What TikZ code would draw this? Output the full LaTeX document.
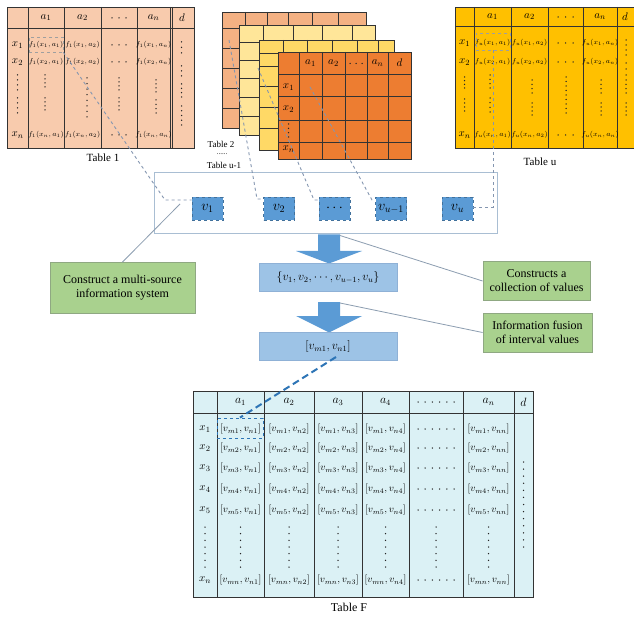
\documentclass[tikz,border=0pt]{standalone}
\usepackage{fontspec}
\setmainfont{Liberation Serif}
\usetikzlibrary{calc}
\definecolor{tabone}{HTML}{F8CBAD}
\definecolor{tabu}{HTML}{FFC000}
\definecolor{stkA}{HTML}{F4B183}
\definecolor{stkB}{HTML}{FFE699}
\definecolor{stkC}{HTML}{FFD966}
\definecolor{stkD}{HTML}{ED7D31}
\definecolor{vfill}{HTML}{5B9BD5}
\definecolor{vline}{HTML}{41719C}
\definecolor{setfill}{HTML}{9DC3E6}
\definecolor{setline}{HTML}{8FB1D6}
\definecolor{grfill}{HTML}{A9D18E}
\definecolor{grline}{HTML}{8FA882}
\definecolor{tabF}{HTML}{DBF1F5}
\definecolor{framec}{HTML}{A9BED3}
\definecolor{connc}{HTML}{8C9DB0}
\definecolor{fusec}{HTML}{2E75B6}
\definecolor{dashc}{HTML}{8496B0}
\newcommand\vdotsat[4]{\foreach \k in {0,...,#4}{\fill[black!85] ({#1},{#2+(#3-#2)*\k/#4}) circle (0.75pt);}}
\newcommand\hdotsat[4]{\foreach \k in {0,...,#4}{\fill[black!85] ({#2+(#3-#2)*\k/#4},{#1}) circle (0.75pt);}}
\tikzset{
  tl/.style={draw=black!80, line width=0.7pt},
  hd/.style={font=\fontsize{11}{12}\selectfont, inner sep=0pt},
  cellsm/.style={font=\fontsize{7.5}{8}\selectfont, inner sep=0pt},
  cellF/.style={font=\fontsize{10}{11}\selectfont, inner sep=0pt},
  tcap/.style={font=\fontsize{11}{12}\selectfont, inner sep=0pt},
  scap/.style={font=\fontsize{9}{10}\selectfont, inner sep=0pt},
  gdash/.style={draw=gray!75, dashed, line width=0.7pt, inner sep=0pt},
  gline/.style={draw=dashc, dashed, line width=0.9pt},
  vbox/.style={fill=vfill, draw=vline, dashed, line width=0.8pt, minimum width=31pt, minimum height=23pt, inner sep=0pt, font=\fontsize{14}{14}\selectfont},
  setbox/.style={fill=setfill, draw=setline, line width=0.8pt, minimum width=138pt, minimum height=28pt, inner sep=0pt, font=\fontsize{12}{12}\selectfont},
  gbox/.style={fill=grfill, draw=grline, line width=0.9pt, inner sep=0pt, align=center, font=\fontsize{12}{14}\selectfont},
  conn/.style={draw=connc, line width=0.8pt},
}
\begin{document}
\begin{tikzpicture}[x=1pt,y=-1pt]
\useasboundingbox[fill=white] (0,0) rectangle (634,620);

% ---------------- Table 1
\fill[tabone] (7,7) rectangle (194,148);
\foreach \x in {28,64,101,137,170,172.5} \draw[tl] (\x,7) -- (\x,148);
\draw[tl] (7,28) -- (194,28);
\draw[tl] (7,7) rectangle (194,148);
\node[hd] (t1h1) at (46,17.5) {$a_1$};
\node[hd] (t1h2) at (82.5,17.5) {$a_2$};
\node[hd] (t1h3) at (153.5,17.5) {$a_n$};
\node[hd] (t1h4) at (182,17.5) {$d$};
\hdotsat{18}{112}{126}{2}
\foreach \y/\r in {45/1,62/2,135/n}{
  \node[hd] (t1r\r) at (17.5,\y) {$x_\r$};
  \foreach \x/\c in {46/1,82.5/2,153.5/n} \node[cellsm] (t1c\r\c) at (\x,\y) {$f_1(x_\r,a_\c)$};
  \hdotsat{\y}{112}{126}{2}
}
\vdotsat{17.5}{75}{90}{3} \vdotsat{17.5}{98}{113}{3}
\vdotsat{45}{75}{87}{3} \vdotsat{45}{98}{110}{3}
\vdotsat{87}{78}{117}{7}
\vdotsat{119}{78}{90}{3} \vdotsat{119}{98}{110}{3}
\vdotsat{156}{80}{92}{3} \vdotsat{156}{100}{113}{3}
\vdotsat{181.5}{42}{53}{2} \vdotsat{181.5}{66}{76}{2} \vdotsat{181.5}{84}{97}{3} \vdotsat{181.5}{106}{125}{4}
\node[gdash, minimum width=34pt, minimum height=15pt] (c1) at (46,44.5) {};
\node[tcap] (cap1) at (103,158) {Table 1};

% ---------------- Table u
\fill[tabu] (455,7) rectangle (640,148);
\foreach \x in {474,511,548,583,617} \draw[tl] (\x,7) -- (\x,148);
\draw[tl] (455,26) -- (640,26);
\draw[tl] (455,7) rectangle (640,148);
\node[hd] (tuh1) at (492.5,16.5) {$a_1$};
\node[hd] (tuh2) at (529.5,16.5) {$a_2$};
\node[hd] (tuh3) at (600,16.5) {$a_n$};
\node[hd] (tuh4) at (625,16.5) {$d$};
\hdotsat{17}{558}{573}{2}
\foreach \y/\r in {43/1,62/2,135/n}{
  \node[hd] (tur\r) at (464.5,\y) {$x_\r$};
  \foreach \x/\c in {492.5/1,529.5/2,600/n} \node[cellsm] (tuc\r\c) at (\x,\y) {$f_u(x_\r,a_\c)$};
  \hdotsat{\y}{558}{573}{2}
}
\vdotsat{464.5}{77}{88}{3} \vdotsat{464.5}{99}{111}{3}
\vdotsat{490}{75}{88}{3} \vdotsat{490}{98}{112}{3}
\vdotsat{532}{80}{93}{3} \vdotsat{532}{103}{115}{3}
\vdotsat{566}{77}{113}{8}
\vdotsat{601}{80}{93}{3} \vdotsat{601}{103}{115}{3}
\vdotsat{626}{40}{55}{3} \vdotsat{626}{63}{75}{2} \vdotsat{626}{80}{93}{3} \vdotsat{626}{103}{115}{3}
\node[gdash, minimum width=34pt, minimum height=17pt] (cu) at (493,41.5) {};
\node[tcap] (capu) at (540,162) {Table u};

% ---------------- stacked tables
\fill[stkA] (222,12) rectangle (366,128);
\foreach \x in {245,267,288,312,338} \draw[tl] (\x,12) -- (\x,128);
\foreach \y in {28,48,68,88,108} \draw[tl] (222,\y) -- (366,\y);
\draw[tl] (222,12) rectangle (366,128);

\fill[stkB] (239,25) rectangle (375,135);
\foreach \x in {263,293,322,352} \draw[tl] (\x,25) -- (\x,135);
\foreach \y in {42,60,78,97,116} \draw[tl] (239,\y) -- (375,\y);
\draw[tl] (239,25) rectangle (375,135);

\fill[stkC] (259,40) rectangle (394,150);
\foreach \x in {283,307,332,357,378} \draw[tl] (\x,40) -- (\x,150);
\foreach \y in {53,66,86,107,128} \draw[tl] (259,\y) -- (394,\y);
\draw[tl] (259,40) rectangle (394,150);

\fill[stkD] (278,52) rectangle (411,159);
\foreach \x in {299,322,345,367,388} \draw[tl] (\x,52) -- (\x,159);
\foreach \y in {74,96,120,142} \draw[tl] (278,\y) -- (411,\y);
\draw[tl] (278,52) rectangle (411,159);
\node[hd] (fh1) at (310.5,63) {$a_1$};
\node[hd] (fh2) at (333.5,63) {$a_2$};
\node[hd] (fh3) at (377.5,63) {$a_n$};
\node[hd] (fh4) at (399.5,63) {$d$};
\hdotsat{63.5}{350}{362}{2}
\node[hd] (fr1) at (288.5,87) {$x_1$};
\node[hd] (fr2) at (288.5,109) {$x_2$};
\vdotsat{288.5}{124}{137}{3}
\node[hd] (frn) at (288.5,149) {$x_n$};

\node[scap] (cap2) at (221,144) {Table 2};
\node[scap, font=\fontsize{7}{7}\selectfont, text height=1.5pt, text depth=0pt] (cap3) at (222,154) {......};
\node[scap] (cap4) at (224,165) {Table u-1};

% ---------------- multi-source information system
\node[draw=framec, line width=1pt, minimum width=343pt, minimum height=61pt, inner sep=0pt] (sys) at (325.5,203.5) {};
\node[vbox] (v1) at (207.5,208.5) {$v_1$};
\node[vbox] (v2) at (279,208.5) {$v_2$};
\node[vbox] (v3) at (334.5,208.5) {$\cdots$};
\node[vbox] (v4) at (391,208.5) {$v_{u-1}$};
\node[vbox] (v5) at (457.5,208.5) {$v_u$};

\coordinate (k1) at (165,200);
\draw[gline] (c1.south east) -- (k1) -- (k1 -| v1.west);
\coordinate (s2) at (229,40); \coordinate (k2) at (257,199);
\draw[gline] (s2) -- (k2) -- (k2 -| v2.west);
\coordinate (s3) at (258,68); \coordinate (k3) at (314,200);
\draw[gline] (s3) -- (k3) -- (k3 -| v3.west);
\coordinate (s4) at (310,87); \coordinate (k4) at (372,200);
\draw[gline] (s4) -- (k4) -- (k4 -| v4.west);
\coordinate (k5) at (493,207);
\draw[gline] (cu.south) -- (k5) -- (k5 -| v5.east);

% ---------------- arrows and value boxes
\fill[vfill] (318,234.5) -- (340,234.5) -- (340,251) -- (362,251) -- (329,263.5) -- (296,251) -- (318,251) -- cycle;
\fill[vfill] (318,302) -- (340,302) -- (340,316) -- (362,316) -- (329,332.5) -- (296,316) -- (318,316) -- cycle;
\node[setbox] (set) at (328,277.5) {$\{v_1,v_2,\cdots,v_{u-1},v_u\}$};
\node[setbox] (fus) at (328,346.5) {$[v_{m1},v_{n1}]$};

% ---------------- green notes
\node[gbox, minimum width=145pt, minimum height=51pt] (g1) at (122.5,288) {Construct a multi-source\\information system};
\node[gbox, minimum width=107pt, minimum height=39pt] (g2) at (536.5,281) {Constructs a\\collection of values};
\node[gbox, minimum width=109pt, minimum height=39pt] (g3) at (537.5,332.5) {Information fusion\\of interval values};
\coordinate (p1) at (180,204);
\draw[conn] (p1) -- (g1.north);
\coordinate (ar1) at (340,235.5);
\draw[conn] (ar1) -- (g2.west);
\coordinate (ar2) at (340,303);
\draw[conn] (ar2) -- (g3.west);

% ---------------- Table F
\fill[tabF] (193,391) rectangle (533,597);
\foreach \x in {217,264,314,362,409,463,514} \draw[tl] (\x,391) -- (\x,597);
\draw[tl] (193,413) -- (533,413);
\draw[tl] (193,391) rectangle (533,597);
\node[hd, font=\fontsize{12}{12}\selectfont] (Fh1) at (240.5,402) {$a_1$};
\node[hd, font=\fontsize{12}{12}\selectfont] (Fh2) at (289,402) {$a_2$};
\node[hd, font=\fontsize{12}{12}\selectfont] (Fh3) at (338,402) {$a_3$};
\node[hd, font=\fontsize{12}{12}\selectfont] (Fh4) at (385.5,402) {$a_4$};
\node[hd, font=\fontsize{12}{12}\selectfont] (Fh5) at (488.5,402) {$a_n$};
\node[hd, font=\fontsize{12}{12}\selectfont] (Fh6) at (523.5,402) {$d$};
\hdotsat{402}{418}{454}{5}
\foreach \y/\r in {429/1,448/2,468/3,489/4,510/5}{
  \node[cellF, font=\fontsize{11}{12}\selectfont] (Fr\r) at (205,\y) {$x_\r$};
  \foreach \x/\c in {240.5/1,289/2,338/3,385.5/4} \node[cellF] (Fc\r\c) at (\x,\y) {$[v_{m\r},v_{n\c}]$};
  \node[cellF] (Fc\r-n) at (488.5,\y) {$[v_{m\r},v_{nn}]$};
  \hdotsat{\y}{418}{454}{5}
}
\node[cellF, font=\fontsize{11}{12}\selectfont] (Frn) at (205,580) {$x_n$};
\foreach \x/\c in {240.5/1,289/2,338/3,385.5/4} \node[cellF] (Fcn\c) at (\x,580) {$[v_{mn},v_{n\c}]$};
\node[cellF] (Fcn-n) at (488.5,580) {$[v_{mn},v_{nn}]$};
\hdotsat{580}{418}{454}{5}
\foreach \x in {205,240.5,289,338,385.5,436,488.5} \vdotsat{\x}{527}{567}{6};
\vdotsat{523.5}{462}{547}{12}
\node[draw=fusec, dashed, line width=0.8pt, minimum width=46pt, minimum height=20pt, inner sep=0pt] (cF) at (240,428) {};
\coordinate (fs) at (336,357);
\draw[draw=fusec, line width=2pt, dash pattern=on 7pt off 4pt] (fs) -- (cF.north);
\node[tcap, font=\fontsize{12}{12}\selectfont] (capF) at (349,607) {Table F};
\end{tikzpicture}
\end{document}
